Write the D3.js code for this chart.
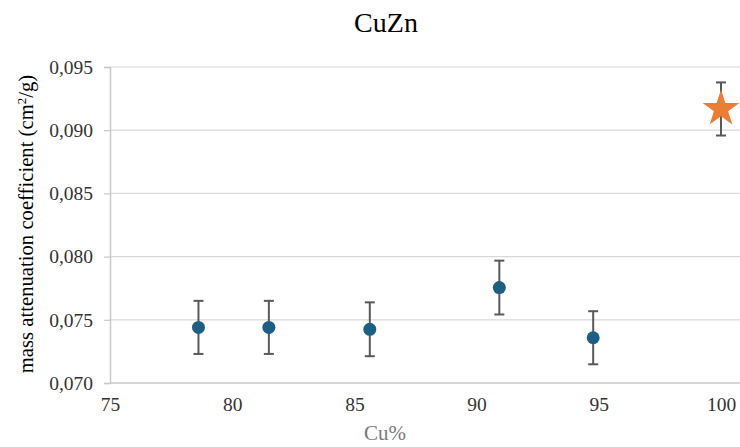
<!DOCTYPE html>
<html>
<head>
<meta charset="utf-8">
<script src="https://cdn.jsdelivr.net/npm/d3@7/dist/d3.min.js"></script>
<style>
  html, body { margin: 0; padding: 0; background: #fff; }
  svg { display: block; }
  text { font-family: "Liberation Serif", "Times New Roman", serif; }
</style>
</head>
<body>
<svg id="chart" width="740" height="447"></svg>
<script>
// Measured alloy samples (Cu content, mass attenuation coefficient, error)
const cuPercent = [78.62, 81.5, 85.63, 90.93, 94.77];
const muValues  = [0.0744, 0.0744, 0.07425, 0.07755, 0.07358];
const muErrors  = [0.0021, 0.0021, 0.00213, 0.00213, 0.0021];

// Pure copper reference point
const refCu    = [100];
const refMu    = [0.09168];
const refError = [0.0021];

const xTicks = [75, 80, 85, 90, 95, 100];
const yTicks = [0.070, 0.075, 0.080, 0.085, 0.090, 0.095];

const svg = d3.select("#chart");
const W = 740, H = 447;
const plotLeft = 110, plotRight = 721, plotTop = 67, plotBottom = 383;
const serif = "Liberation Serif, Times New Roman, serif";

const x = d3.scaleLinear().domain([75, 100]).range([plotLeft, plotRight]);
const y = d3.scaleLinear().domain([0.070, 0.095]).range([plotBottom, plotTop]);

const fmt = v => d3.format(".3f")(v).replace(".", ",");

// Horizontal gridlines
svg.append("g").selectAll("line").data(yTicks).join("line")
  .attr("x1", plotLeft).attr("x2", W)
  .attr("y1", d => y(d)).attr("y2", d => y(d))
  .attr("stroke", d => d === 0.070 ? "#c8c8c8" : "#d9d9d9")
  .attr("stroke-width", d => d === 0.070 ? 1.5 : 1.2);

// Y axis with outward ticks
const yAxis = svg.append("g")
  .attr("transform", `translate(${plotLeft},0)`)
  .attr("font-family", serif)
  .call(d3.axisLeft(y).tickValues(yTicks).tickFormat(fmt).tickSize(6).tickPadding(11));
yAxis.attr("font-family", serif);
yAxis.select(".domain").attr("stroke", "#c8c8c8").attr("stroke-width", 1.5);
yAxis.selectAll(".tick line").attr("stroke", "#c8c8c8").attr("stroke-width", 1.2);
yAxis.selectAll(".tick text")
  .attr("fill", "#333")
  .style("font-family", serif)
  .style("font-size", "19.5px");

// X axis labels only
const xAxis = svg.append("g")
  .attr("transform", `translate(0,${plotBottom})`)
  .call(d3.axisBottom(x).tickValues(xTicks).tickSize(0).tickPadding(14));
xAxis.attr("font-family", serif);
xAxis.select(".domain").remove();
xAxis.selectAll(".tick text")
  .attr("fill", "#333")
  .style("font-family", serif)
  .style("font-size", "19.5px");

// Title
svg.append("text")
  .attr("x", 386).attr("y", 32)
  .attr("text-anchor", "middle")
  .attr("fill", "#000")
  .style("font-family", serif)
  .style("font-size", "28px")
  .text("CuZn");

// Axis titles
svg.append("text")
  .attr("x", 385).attr("y", 440)
  .attr("text-anchor", "middle")
  .attr("fill", "#7a7a7a")
  .style("font-family", serif)
  .style("font-size", "21px")
  .text("Cu%");

const yTitle = svg.append("text")
  .attr("transform", "translate(33,224) rotate(-90)")
  .attr("text-anchor", "middle")
  .attr("fill", "#000")
  .style("font-family", serif)
  .style("font-size", "20.7px");
yTitle.append("tspan").text("mass attenuation coefficient (cm");
yTitle.append("tspan").attr("baseline-shift", "super").style("font-size", "13px").text("2");
yTitle.append("tspan").text("/g)");

// Error bars
function errorBars(xs, ys, es) {
  const g = svg.append("g").attr("stroke", "#595959").attr("stroke-width", 2);
  const idx = d3.range(xs.length);
  g.selectAll(".v").data(idx).join("line")
    .attr("x1", i => x(xs[i])).attr("x2", i => x(xs[i]))
    .attr("y1", i => y(ys[i] + es[i])).attr("y2", i => y(ys[i] - es[i]));
  g.selectAll(".ct").data(idx).join("line")
    .attr("x1", i => x(xs[i]) - 5).attr("x2", i => x(xs[i]) + 5)
    .attr("y1", i => y(ys[i] + es[i])).attr("y2", i => y(ys[i] + es[i]));
  g.selectAll(".cb").data(idx).join("line")
    .attr("x1", i => x(xs[i]) - 5).attr("x2", i => x(xs[i]) + 5)
    .attr("y1", i => y(ys[i] - es[i])).attr("y2", i => y(ys[i] - es[i]));
}
errorBars(cuPercent, muValues, muErrors);
errorBars(refCu, refMu, refError);

// Sample markers
svg.append("g").selectAll("circle").data(d3.range(cuPercent.length)).join("circle")
  .attr("cx", i => x(cuPercent[i]))
  .attr("cy", i => y(muValues[i]))
  .attr("r", 6.5)
  .attr("fill", "#1b5f84");

// Reference marker (star)
svg.append("g").selectAll("path").data(d3.range(refCu.length)).join("path")
  .attr("d", d3.symbol().type(d3.symbolStar).size(420))
  .attr("transform", i => `translate(${x(refCu[i])},${y(refMu[i])})`)
  .attr("fill", "#ed7d31");
</script>
</body>
</html>
